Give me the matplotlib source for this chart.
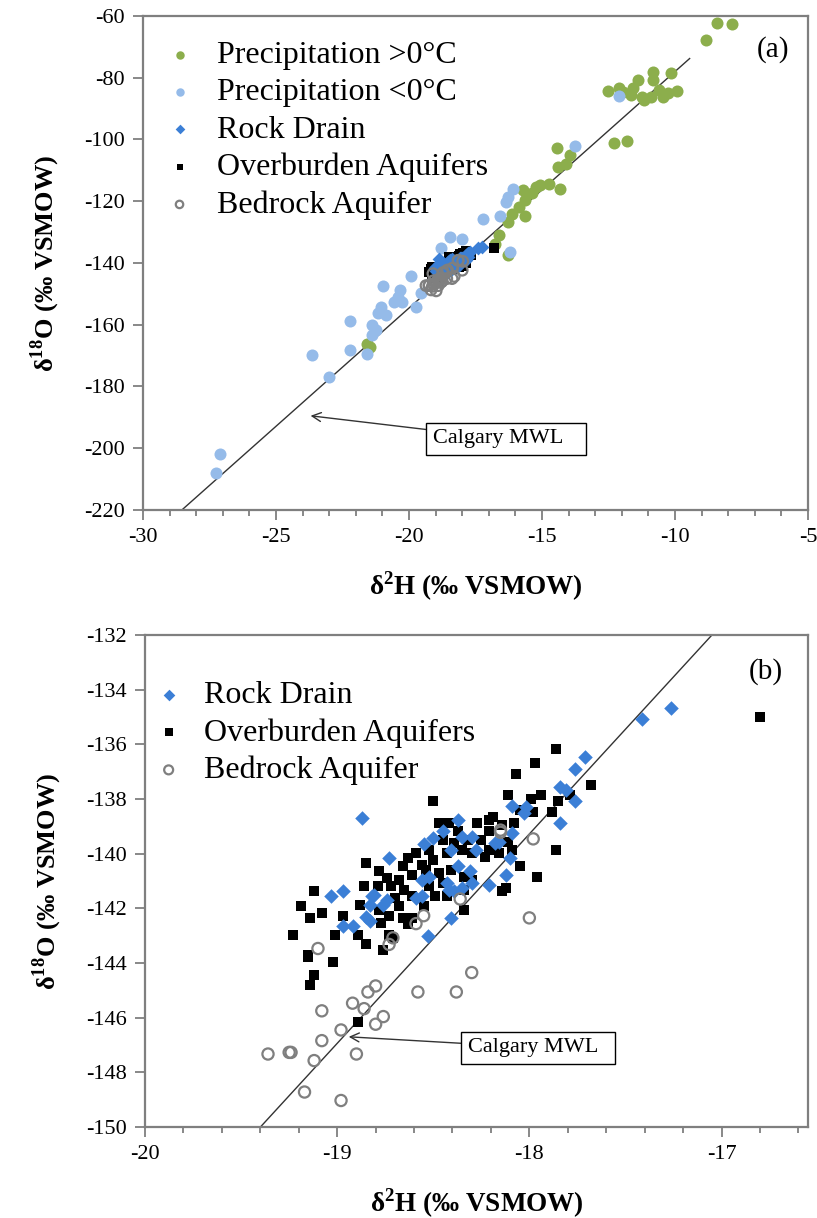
import numpy as np
import matplotlib.pyplot as plt
from matplotlib.ticker import MultipleLocator

plt.rcParams['font.family'] = ['Liberation Serif', 'DejaVu Serif']
plt.rcParams['mathtext.fontset'] = 'custom'
plt.rcParams['mathtext.rm'] = 'Liberation Serif'
plt.rcParams['mathtext.bf'] = 'Liberation Serif:bold'
plt.rcParams['axes.unicode_minus'] = False

# precipitation (panel a only)
warm_x = [-8.41, -7.87, -8.82, -12.52, -12.09, -11.95, -11.57, -11.38, -10.84, -10.81,
          -10.16, -9.92, -10.44, -11.17, -11.66, -10.92, -10.60, -10.28, -11.25,
          -12.30, -11.82, -14.45, -13.93, -14.09, -14.41, -14.74, -14.33, -15.06,
          -15.39, -15.71, -15.63, -15.88, -15.63, -16.28, -16.61, -16.77, -16.28,
          -16.12, -15.23, -21.56, -21.48]
warm_y = [-62.3, -62.5, -67.7, -84.3, -83.2, -84.6, -83.2, -80.8, -78.1, -80.8,
          -78.4, -84.3, -86.2, -87.3, -85.7, -86.2, -84.1, -85.1, -86.2,
          -101.3, -100.5, -102.9, -105.1, -107.8, -108.9, -114.3, -115.9, -114.8,
          -117.5, -116.4, -119.7, -121.8, -124.8, -126.7, -131.0, -133.7, -137.5,
          -124.0, -115.4, -166.1, -167.1]

cold_x = [-12.09, -13.77, -16.09, -16.28, -16.36, -16.56, -17.21, -16.20, -18.47, -18.02,
          -18.80, -19.93, -19.72, -20.96, -20.34, -20.42, -20.26, -20.58, -21.04, -21.15,
          -20.86, -22.21, -21.40, -21.23, -21.40, -22.21, -21.56, -23.64, -23.02, -27.11,
          -27.24, -19.53]
cold_y = [-85.9, -102.1, -115.9, -118.6, -120.2, -124.8, -125.8, -136.6, -131.7, -132.2,
          -135.0, -144.3, -154.2, -147.5, -148.6, -150.9, -152.6, -152.6, -154.2, -156.3,
          -156.9, -158.8, -160.1, -161.7, -163.4, -168.2, -169.5, -169.8, -176.8, -201.9,
          -207.9, -149.8]

# groundwater (both panels)
rock_x = [-17.265, -17.415, -17.71, -17.765, -17.84, -17.81, -17.765, -17.84, -18.02, -18.09,
          -18.03, -18.87, -18.37, -18.45, -18.50, -18.55, -18.35, -18.30, -18.09, -18.16,
          -18.18, -18.28, -18.41, -18.73, -18.37, -18.10, -18.56, -18.52, -18.31, -18.30,
          -18.12, -18.21, -18.43, -18.42, -18.39, -18.35, -18.56, -18.59, -18.81, -18.74,
          -18.76, -19.03, -18.97, -18.83, -18.85, -18.83, -18.97, -18.92, -18.41, -18.53,
          -18.82]
rock_y = [-134.68, -135.09, -136.47, -136.89, -137.56, -137.68, -138.08, -138.89, -138.29, -138.26,
          -138.53, -138.69, -138.77, -139.17, -139.44, -139.65, -139.38, -139.40, -139.26, -139.56,
          -139.60, -139.86, -139.86, -140.17, -140.47, -140.17, -140.96, -140.84, -140.65, -141.08,
          -140.77, -141.16, -141.08, -141.32, -141.38, -141.26, -141.54, -141.62, -141.50, -141.68,
          -141.87, -141.56, -141.38, -141.87, -142.33, -142.45, -142.63, -142.63, -142.35, -143.02,
          -141.56]

over_x = [-16.80, -17.86, -17.97, -18.07, -17.68, -18.11, -17.94, -17.79, -17.99, -17.85,
          -18.50, -18.05, -17.98, -17.88, -18.19, -18.21, -18.27, -18.47, -18.42, -18.08,
          -18.14, -18.21, -18.37, -18.25, -18.32, -18.39, -18.45, -18.52, -18.59, -18.63,
          -18.66, -18.56, -18.50, -18.43, -18.35, -18.30, -18.23, -18.21, -18.16, -18.09,
          -18.11, -18.05, -17.86, -17.96, -18.85, -18.78, -18.74, -18.68, -18.61, -18.54,
          -18.47, -18.41, -18.34, -18.45, -18.52, -18.49, -18.43, -18.30, -18.34, -18.86,
          -18.79, -18.72, -18.65, -18.61, -18.70, -18.68, -18.88, -18.78, -18.73, -18.66,
          -18.61, -18.63, -18.77, -18.55, -18.34, -18.14, -18.12, -19.12, -19.19, -19.14,
          -19.08, -18.97, -19.23, -19.01, -18.89, -18.85, -18.73, -18.71, -18.76, -19.15,
          -19.15, -19.02, -19.12, -19.14, -18.89]
over_y = [-135.01, -136.19, -136.68, -137.10, -137.50, -137.86, -137.86, -137.86, -138.01, -138.08,
          -138.08, -138.41, -138.49, -138.49, -138.65, -138.77, -138.87, -138.87, -138.87, -138.89,
          -138.95, -139.16, -139.16, -139.50, -139.50, -139.60, -139.50, -139.86, -139.99, -140.17,
          -140.47, -140.41, -140.23, -139.99, -139.86, -139.99, -140.11, -139.86, -139.99, -139.86,
          -139.56, -140.47, -139.86, -140.84, -140.35, -140.65, -140.90, -140.96, -140.77, -140.59,
          -140.71, -140.59, -140.84, -141.08, -141.20, -141.56, -141.56, -140.96, -141.32, -141.17,
          -141.20, -141.20, -141.32, -141.56, -141.62, -141.93, -141.87, -142.05, -142.29, -142.35,
          -142.35, -142.59, -142.53, -141.93, -142.07, -141.38, -141.26, -141.38, -141.93, -142.35,
          -142.17, -142.27, -142.96, -142.96, -142.96, -143.32, -142.96, -143.08, -143.53, -143.69,
          -143.77, -143.95, -144.45, -144.80, -146.17]

bed_x = [-18.15, -18.15, -17.98, -18.00, -18.36, -18.55, -18.59, -18.71, -18.73, -19.10,
         -18.30, -18.58, -18.38, -18.80, -18.84, -18.92, -19.08, -18.86, -18.76, -18.80,
         -18.98, -19.08, -19.36, -19.25, -19.24, -18.90, -19.12, -19.17, -18.98]
bed_y = [-139.14, -139.22, -139.46, -142.35, -141.66, -142.27, -142.56, -143.08, -143.32, -143.47,
         -144.35, -145.06, -145.06, -144.84, -145.06, -145.47, -145.75, -145.67, -145.96, -146.24,
         -146.45, -146.84, -147.33, -147.27, -147.27, -147.33, -147.57, -148.72, -149.03]

# Calgary meteoric water line
mwl_slope = 7.66
mwl_icept = -1.4

green = '#8cae4c'
ltblue = '#95bbe9'
blue = '#3b7fd6'
gray = '#7f7f7f'

fig = plt.figure(figsize=(8.17, 12.18), dpi=100)
ax_a = fig.add_axes([0.1750, 0.5813, 0.8140, 0.4056])
ax_b = fig.add_axes([0.1775, 0.0747, 0.8115, 0.4040])


def style_axes(ax):
    for s in ax.spines.values():
        s.set_color(gray)
        s.set_linewidth(1.6)
    ax.tick_params(which='major', direction='out', length=7, width=1.3, color=gray,
                   labelsize=16, pad=6)
    ax.tick_params(which='minor', direction='out', length=4, width=1.3, color=gray)
    ax.tick_params(axis='y', which='minor', left=False)
    ax.set_xlabel(r'δ$^{\mathbf{2}}$H (‰ VSMOW)', fontsize=19.5, fontweight='bold', labelpad=16)
    ax.set_ylabel(r'δ$^{\mathbf{18}}$O (‰ VSMOW)', fontsize=19, fontweight='bold', labelpad=16)


def plot_groundwater(ax, ms):
    h_over = ax.scatter(over_x, over_y, s=ms, marker='s', color='black', linewidths=0, zorder=3)
    h_rock = ax.scatter(rock_x, rock_y, s=ms * 1.1, marker='D', color=blue, linewidths=0, zorder=4)
    h_bed = ax.scatter(bed_x, bed_y, s=ms * 1.3, marker='o', facecolors='none',
                       edgecolors=gray, linewidths=1.6, zorder=5)
    return h_rock, h_over, h_bed


box = dict(boxstyle='square,pad=0.3', fc='white', ec='black', lw=1)
arrow = dict(arrowstyle='->', color='#333333', lw=1, shrinkA=0, shrinkB=0)

# ---- panel (a)
h_warm = ax_a.scatter(warm_x, warm_y, s=75, color=green, linewidths=0, zorder=2)
h_cold = ax_a.scatter(cold_x, cold_y, s=75, color=ltblue, linewidths=0, zorder=2)
h_rock, h_over, h_bed = plot_groundwater(ax_a, 45)
xa = np.array([-30, -9.45])
ax_a.plot(xa, mwl_slope * xa + mwl_icept, color='#333333', lw=1.0, zorder=1)
ax_a.set_xlim(-30, -5)
ax_a.set_ylim(-220, -60)
ax_a.xaxis.set_major_locator(MultipleLocator(5))
ax_a.xaxis.set_minor_locator(MultipleLocator(1))
ax_a.yaxis.set_major_locator(MultipleLocator(20))
style_axes(ax_a)
ax_a.text(-6.3, -70.8, '(a)', fontsize=21, ha='center', va='center')
ax_a.annotate('Calgary MWL   ', xy=(-23.7, -189.5), xytext=(-19.1, -197.0),
              fontsize=16, va='center', ha='left', bbox=box, arrowprops=arrow)
ax_a.legend([h_warm, h_cold, h_rock, h_over, h_bed],
            ['Precipitation >0°C', 'Precipitation <0°C', 'Rock Drain',
             'Overburden Aquifers', 'Bedrock Aquifer'],
            loc='upper left', bbox_to_anchor=(-0.0075, 0.995), frameon=False,
            fontsize=23, labelspacing=0.25, handletextpad=0.575, handlelength=1.2,
            markerscale=0.7, borderaxespad=0.3)

# ---- panel (b)
h_rock, h_over, h_bed = plot_groundwater(ax_b, 50)
xb = np.array([-19.5, -16.5])
ax_b.plot(xb, mwl_slope * xb + mwl_icept, color='#333333', lw=1.0, zorder=1)
ax_b.set_xlim(-20, -16.55)
ax_b.set_ylim(-150, -132)
ax_b.xaxis.set_major_locator(MultipleLocator(1))
ax_b.xaxis.set_minor_locator(MultipleLocator(0.2))
ax_b.yaxis.set_major_locator(MultipleLocator(2))
style_axes(ax_b)
ax_b.text(-16.77, -133.35, '(b)', fontsize=21, ha='center', va='center')
ax_b.annotate('Calgary MWL  ', xy=(-18.94, -146.7), xytext=(-18.32, -147.1),
              fontsize=16, va='center', ha='left', bbox=box, arrowprops=arrow)
ax_b.legend([h_rock, h_over, h_bed],
            ['Rock Drain', 'Overburden Aquifers', 'Bedrock Aquifer'],
            loc='upper left', bbox_to_anchor=(-0.027, 0.952), frameon=False,
            fontsize=23, labelspacing=0.25, handletextpad=0.5, handlelength=1.2,
            markerscale=0.8, borderaxespad=0.3)

fig.savefig('out.png', dpi=100)
